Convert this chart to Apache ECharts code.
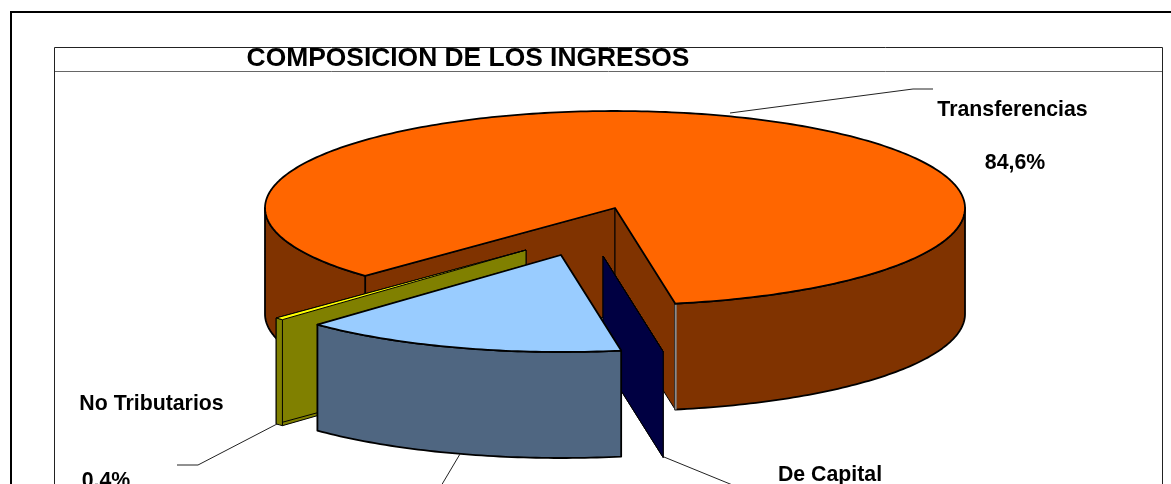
<!DOCTYPE html>
<html><head><meta charset="utf-8">
<style>html,body{margin:0;padding:0;background:#fff}#c{width:1171px;height:484px}</style>
<script src="https://cdn.jsdelivr.net/npm/echarts@6/dist/echarts.min.js"></script>
</head><body><div id="c"></div>
<script>
// ---- data ----
const categories = ['Tributarios', 'No Tributarios', 'Transferencias', 'De Capital'];
const shares = [15.0, 0.4, 84.6, 0.0];            // percent
const shareLabels = ['15,0%', '0,4%', '84,6%', '0,0%'];

// ---- styling and 3D projection ----
const CX = 615, CY = 208, RX = 350, RY = 97, DEPTH = 106;
const FIRST_ANGLE = -9.9;                          // degrees clockwise from the front of the pie
const topColors = ['#99CCFF', '#FFFF00', '#FF6600', '#000080'];
const sideColors = ['#4F6681', '#808000', '#803300', '#000042'];
const offsets = [[-54, 47], [-89, 42], [0, 0], [-12, 48]];
const drawOrder = [2, 3, 1, 0];
const FONT = 'bold 21.3px "Liberation Sans", Arial, sans-serif';
const leaders = [
  [[460, 454], [441, 486]],
  [[277, 424], [198, 465], [177, 465]],
  [[730, 113], [913, 89], [933, 89]],
  [[664, 457], [735, 486]]
];
const nameAnchors = [null, [151.5, 404], [1012.5, 110], [830, 475]];
const valueAnchors = [null, [106, 481], [1015, 163], null];

let acc = FIRST_ANGLE;
const starts = shares.map(v => { const s = acc; acc += v * 3.6; return s; });

function pt(phi, ox, oy, dz) {
  const r = phi * Math.PI / 180;
  return [CX + ox - RX * Math.sin(r), CY + oy + RY * Math.cos(r) + (dz || 0)];
}
function arc(a, b, ox, oy, dz) {
  const out = [], n = Math.max(1, Math.ceil(Math.abs(b - a)));
  for (let i = 0; i <= n; i++) out.push(pt(a + (b - a) * i / n, ox, oy, dz));
  return out;
}
function poly(points, fill, stroke, w) {
  return { type: 'polygon', shape: { points }, style: { fill, stroke: stroke || '#000', lineWidth: w || 1, lineJoin: 'round' } };
}

function renderSlice(params, api) {
  const i = api.value(0), share = api.value(1), a = api.value(2), b = a + share * 3.6;
  const [ox, oy] = offsets[i];
  const side = sideColors[i], top = topColors[i], kids = [];
  const apex = [CX + ox, CY + oy];
  const edge = share < 1 ? 1 : 1.8;
  // cut faces
  [a, b].forEach(ang => {
    const e = pt(ang, ox, oy);
    kids.push(poly([apex, e, [e[0], e[1] + DEPTH], [apex[0], apex[1] + DEPTH]], side));
  });
  // outer wall: only the part facing the viewer
  [[-90, 90], [270, 450]].forEach(([lo, hi]) => {
    const s = Math.max(a, lo), t = Math.min(b, hi);
    if (t > s) {
      const up = arc(s, t, ox, oy), down = arc(t, s, ox, oy, DEPTH);
      kids.push(poly(up.concat(down), side, '#000', edge));
    }
  });
  if (share > 50) {           // light sliver on the big slice's cut edge
    const e = pt(b, ox, oy);
    kids.push({ type: 'line', shape: { x1: e[0] + 0.5, y1: e[1] + 1, x2: e[0] + 0.5, y2: e[1] + DEPTH }, style: { stroke: '#8a8a8a', lineWidth: 2 } });
  }
  // top surface
  kids.push(poly([apex].concat(arc(a, b, ox, oy)), top, '#000', edge));
  // leader + labels
  kids.push({ type: 'polyline', shape: { points: leaders[i] }, style: { fill: 'none', stroke: '#222', lineWidth: 1 } });
  if (nameAnchors[i]) kids.push({ type: 'text', style: { text: categories[i], x: nameAnchors[i][0], y: nameAnchors[i][1], font: FONT, fill: '#000', align: 'center', verticalAlign: 'middle' } });
  if (valueAnchors[i]) kids.push({ type: 'text', style: { text: shareLabels[i], x: valueAnchors[i][0], y: valueAnchors[i][1], font: FONT, fill: '#000', align: 'center', verticalAlign: 'middle' } });
  return { type: 'group', children: kids };
}

const chart = echarts.init(document.getElementById('c'), null, { renderer: 'canvas' });
chart.setOption({
  animation: false,
  backgroundColor: '#fff',
  graphic: [
    { type: 'rect', shape: { x: 11, y: 12, width: 1300, height: 600 }, style: { fill: 'none', stroke: '#000', lineWidth: 2 }, z: 0 },
    { type: 'rect', shape: { x: 54.5, y: 47.5, width: 1108, height: 600 }, style: { fill: 'none', stroke: '#222', lineWidth: 1 }, z: 0 },
    { type: 'line', shape: { x1: 55, y1: 71.5, x2: 1162, y2: 71.5 }, style: { stroke: '#666', lineWidth: 1 }, z: 0 },
    { type: 'text', style: { text: 'COMPOSICION DE LOS INGRESOS', x: 468, y: 59, font: 'bold 26.4px "Liberation Sans", Arial, sans-serif', fill: '#000', align: 'center', verticalAlign: 'middle' }, z: 10 }
  ],
  series: [{
    type: 'custom',
    coordinateSystem: 'none',
    silent: true,
    renderItem: renderSlice,
    z: 5,
    data: drawOrder.map(i => ({ name: categories[i], value: [i, shares[i], starts[i]] }))
  }]
});
</script></body></html>
